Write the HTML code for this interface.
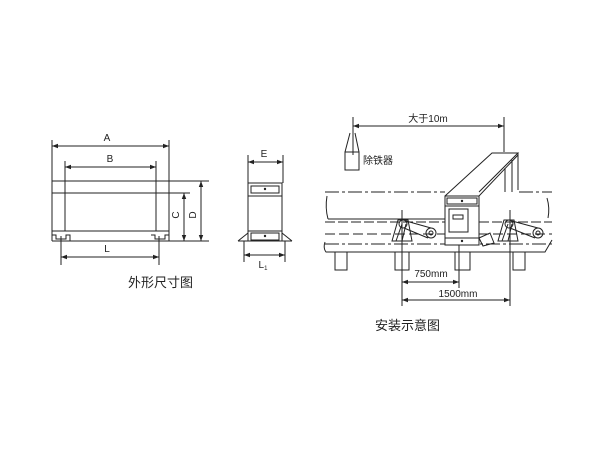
<!DOCTYPE html>
<html><head><meta charset="utf-8"><style>
html,body{margin:0;padding:0;background:#fff;}
svg{display:block}
text{font-family:"Liberation Sans","Noto Sans CJK SC",sans-serif;fill:#222}
</style></head><body>
<svg width="600" height="450" viewBox="0 0 600 450" xmlns="http://www.w3.org/2000/svg">
<defs>
<marker id="a" markerWidth="6" markerHeight="6" refX="6" refY="3" orient="auto-start-reverse" markerUnits="userSpaceOnUse"><path d="M0,0.8 L6,3 L0,5.2z" fill="#222"/></marker>
</defs>
<g stroke="#222" stroke-width="1" fill="none">
<!-- left front view -->
<line x1="52" y1="140" x2="52" y2="241"/>
<line x1="169" y1="140" x2="169" y2="241"/>
<line x1="52" y1="146" x2="169" y2="146" marker-start="url(#a)" marker-end="url(#a)"/>
<line x1="65" y1="161" x2="65" y2="231"/>
<line x1="156" y1="161" x2="156" y2="231"/>
<line x1="65" y1="167" x2="156" y2="167" marker-start="url(#a)" marker-end="url(#a)"/>
<line x1="52" y1="181" x2="209" y2="181"/>
<line x1="52" y1="193" x2="190" y2="193"/>
<line x1="52" y1="231" x2="169" y2="231"/>
<line x1="52" y1="241" x2="209" y2="241"/>
<path d="M52,235 H56 V239 H66 V235 H70 V241"/>
<path d="M151,235 H155 V239 H165 V235 H169"/>
<line x1="184" y1="193" x2="184" y2="241" marker-start="url(#a)" marker-end="url(#a)"/>
<line x1="201" y1="181" x2="201" y2="241" marker-start="url(#a)" marker-end="url(#a)"/>
<line x1="61" y1="236" x2="61" y2="265"/>
<line x1="159" y1="236" x2="159" y2="265"/>
<line x1="61" y1="257" x2="159" y2="257" marker-start="url(#a)" marker-end="url(#a)"/>
<!-- side view -->
<line x1="248" y1="155" x2="248" y2="183"/>
<line x1="283" y1="155" x2="283" y2="183"/>
<line x1="248" y1="162" x2="283" y2="162" marker-start="url(#a)" marker-end="url(#a)"/>
<rect x="248" y="183" width="34" height="58"/>
<rect x="251" y="186" width="28" height="7"/>
<line x1="248" y1="196" x2="282" y2="196"/>
<line x1="248" y1="231" x2="282" y2="231"/>
<rect x="251" y="233" width="28" height="7"/>
<path d="M238,241 L248,233 M282,233 L292,241 M238,241 H292"/>
<line x1="244" y1="241" x2="244" y2="262"/>
<line x1="285" y1="241" x2="285" y2="262"/>
<line x1="244" y1="255" x2="285" y2="255" marker-start="url(#a)" marker-end="url(#a)"/>
<!-- right install -->
<line x1="353" y1="117" x2="353" y2="155"/>
<line x1="504" y1="117" x2="504" y2="152"/>
<line x1="353" y1="126" x2="504" y2="126" marker-start="url(#a)" marker-end="url(#a)"/>
<rect x="345" y="152" width="14" height="18"/>
<path d="M345,152 L350,133 M359,152 L355,133"/>
<line x1="325" y1="192" x2="445" y2="192" stroke-dasharray="14,3,3,3"/>
<line x1="519" y1="192" x2="552" y2="192" stroke-dasharray="14,3,3,3"/>
<path d="M327,196 Q325,208 328,219"/>
<line x1="328" y1="219" x2="445" y2="219"/>
<line x1="325" y1="222" x2="445" y2="222" stroke-dasharray="10,3"/>
<line x1="479" y1="222" x2="552" y2="222" stroke-dasharray="10,3"/>
<line x1="325" y1="234" x2="552" y2="234" stroke-dasharray="10,4"/>
<line x1="325" y1="244" x2="552" y2="244" stroke-dasharray="14,3,3,3"/>
<path d="M325,242 Q323,248 326,252 H545 L552,240"/>
<path d="M547,198 Q550,208 548,218"/>
<path d="M335,252 V270 H347 V252 M395,252 V270 H409 V252 M455,252 V270 H470 V252 M513,252 V270 H525 V252"/>
<!-- detector -->
<path d="M445,196 L492,153 H518 L479,192"/>
<path d="M445,196 H479 L518,155"/>
<path d="M518,153 V190 M512,160 V192 M505,168 V192 M479,196 L479,245"/>
<rect x="445" y="196" width="34" height="49" fill="#fff"/>
<rect x="447" y="198" width="30" height="6"/>
<line x1="445" y1="206" x2="479" y2="206"/>
<rect x="449" y="209" width="19" height="23"/>
<rect x="453" y="215" width="10" height="4"/>
<line x1="445" y1="238" x2="479" y2="238"/>
<path d="M479,238 L490,233 L494,243 L483,246z"/>
<!-- rollers -->
<path d="M392,241 L398,220 L408,220 L412,241z M396,241 L402,224 M402,241 L406,224"/>
<circle cx="403" cy="224" r="4"/>
<path d="M406,221 L431,228 M404,228 L428,238"/>
<circle cx="431" cy="233" r="5"/><circle cx="431" cy="233" r="2"/>
<path d="M498,241 L504,220 L514,220 L518,241z M502,241 L508,224 M508,241 L512,224"/>
<circle cx="509" cy="224" r="4"/>
<path d="M512,221 L538,228 M510,228 L535,238"/>
<circle cx="538" cy="233" r="5"/><circle cx="538" cy="233" r="2"/>
<!-- dimensions -->
<line x1="402" y1="210" x2="402" y2="306"/>
<line x1="459" y1="245" x2="459" y2="288"/>
<line x1="510" y1="210" x2="510" y2="306"/>
<line x1="402" y1="282" x2="459" y2="282" marker-start="url(#a)" marker-end="url(#a)"/>
<line x1="402" y1="300" x2="510" y2="300" marker-start="url(#a)" marker-end="url(#a)"/>
</g>
<circle cx="265" cy="189" r="1.2" fill="#222"/>
<circle cx="265" cy="236" r="1.2" fill="#222"/>
<circle cx="462" cy="201" r="1.2" fill="#222"/>
<circle cx="462" cy="241" r="1.2" fill="#222"/>
<g font-size="10">
<text x="107" y="141" text-anchor="middle">A</text>
<text x="110" y="162" text-anchor="middle">B</text>
<text x="107" y="252" text-anchor="middle">L</text>
<text x="179" y="215" text-anchor="middle" transform="rotate(-90 179 215)">C</text>
<text x="196" y="215" text-anchor="middle" transform="rotate(-90 196 215)">D</text>
<text x="264" y="157" text-anchor="middle">E</text>
<text x="263" y="268" text-anchor="middle">L<tspan font-size="6" dy="2">1</tspan></text>
<text x="428" y="122" text-anchor="middle">大于10m</text>
<text x="363" y="164">除铁器</text>
<text x="431" y="277" text-anchor="middle">750mm</text>
<text x="458" y="297" text-anchor="middle">1500mm</text>
</g>
<text x="128" y="287" font-size="13">外形尺寸图</text>
<text x="375" y="330" font-size="13">安装示意图</text>
</svg>
</body></html>
